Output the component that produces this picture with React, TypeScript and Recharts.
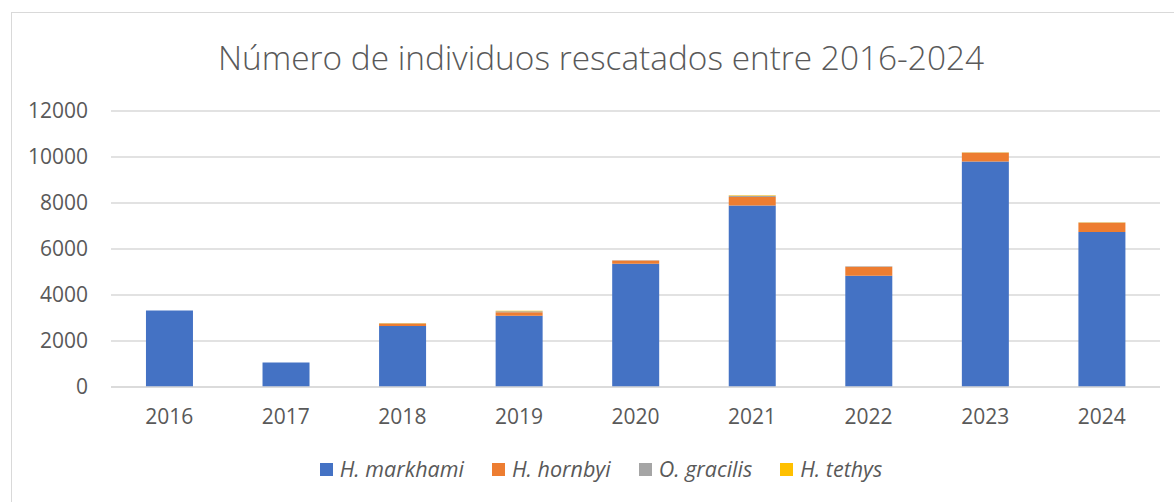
import { BarChart, Bar, XAxis, YAxis, CartesianGrid } from 'recharts';

// Rescued individuals per year, by species
const years = ['2016', '2017', '2018', '2019', '2020', '2021', '2022', '2023', '2024'];
const markhami = [3330, 1070, 2650, 3100, 5360, 7890, 4840, 9800, 6740];
const hornbyi = [0, 0, 110, 155, 140, 370, 390, 390, 400];
const gracilis = [0, 0, 15, 35, 10, 50, 15, 10, 10];
const tethys = [0, 0, 5, 25, 5, 25, 10, 10, 10];
const yTicks = [0, 2000, 4000, 6000, 8000, 10000, 12000];

const series = [
  { key: 'markhami', name: 'H. markhami', color: '#4472C4' },
  { key: 'hornbyi', name: 'H. hornbyi', color: '#ED7D31' },
  { key: 'gracilis', name: 'O. gracilis', color: '#A5A5A5' },
  { key: 'tethys', name: 'H. tethys', color: '#FFC000' },
];

const data = years.map((year, i) => ({
  year,
  markhami: markhami[i],
  hornbyi: hornbyi[i],
  gracilis: gracilis[i],
  tethys: tethys[i],
}));

const FONT = '"Open Sans", "Liberation Sans", sans-serif';
const TEXT = '#595959';

export default function App() {
  return (
    <div
      style={{
        position: 'absolute',
        left: 0,
        top: 0,
        width: 1174,
        height: 502,
        overflow: 'hidden',
        background: '#fff',
        fontFamily: FONT,
      }}
    >
      {/* chart frame */}
      <div
        style={{
          position: 'absolute',
          left: 11,
          top: 12,
          width: 1200,
          height: 600,
          border: '1px solid #d9d9d9',
        }}
      />

      <div
        style={{
          position: 'absolute',
          left: 0,
          width: 1202,
          top: 33,
          textAlign: 'center',
          fontSize: 33.4,
          color: TEXT,
          fontWeight: 300,
          lineHeight: '48px',
        }}
      >
        Número de individuos rescatados entre 2016-2024
      </div>

      <div style={{ position: 'absolute', left: 0, top: 0 }}>
        <BarChart
          width={1174}
          height={502}
          data={data}
          margin={{ top: 111, right: 14, bottom: 55, left: 11 }}
          barCategoryGap="30%"
        >
          <CartesianGrid vertical={false} stroke="#d9d9d9" strokeWidth={1.5} />
          <XAxis
            dataKey="year"
            axisLine={{ stroke: '#d9d9d9', strokeWidth: 1.5 }}
            tickLine={false}
            tickSize={0}
            tickMargin={22}
            tick={{ fill: TEXT, fontSize: 21, fontFamily: FONT }}
            height={60}
          />
          <YAxis
            width={100}
            domain={[0, 12000]}
            ticks={yTicks}
            axisLine={false}
            tickLine={false}
            tickSize={0}
            tickMargin={23}
            tick={{ fill: TEXT, fontSize: 21, fontFamily: FONT }}
          />
          {series.map((s) => (
            <Bar
              key={s.key}
              dataKey={s.key}
              name={s.name}
              stackId="a"
              fill={s.color}
              isAnimationActive={false}
            />
          ))}
        </BarChart>
      </div>

      {/* legend */}
      <div
        style={{
          position: 'absolute',
          left: 0,
          width: 1202,
          top: 455,
          display: 'flex',
          justifyContent: 'center',
          gap: 28,
          fontSize: 21.5,
          fontStyle: 'italic',
          color: TEXT,
          lineHeight: '28px',
        }}
      >
        {series.map((s) => (
          <div key={s.key} style={{ display: 'flex', alignItems: 'center' }}>
            <span
              style={{
                display: 'inline-block',
                width: 13,
                height: 13,
                background: s.color,
                marginRight: 7,
              }}
            />
            {s.name}
          </div>
        ))}
      </div>
    </div>
  );
}
